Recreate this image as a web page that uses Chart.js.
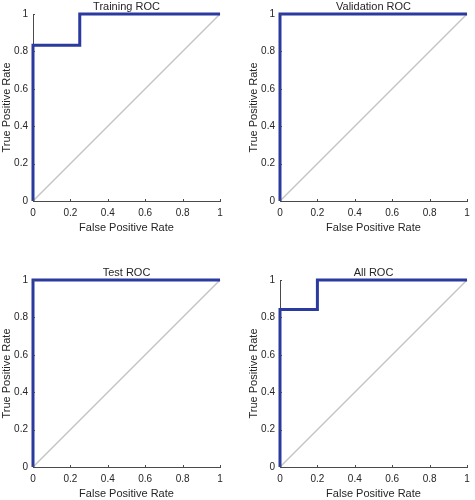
<!DOCTYPE html>
<html>
<head>
<meta charset="utf-8">
<script src="https://cdn.jsdelivr.net/npm/chart.js@4/dist/chart.umd.min.js"></script>
<style>
  html, body { margin: 0; padding: 0; background: #fff; }
  #wrap { position: relative; width: 475px; height: 500px; overflow: hidden; background: #fff; }
  canvas { position: absolute; }
</style>
</head>
<body>
<div id="wrap"></div>
<script>
// ---- data ----
const panelTitles = ['Training ROC', 'Validation ROC', 'Test ROC', 'All ROC'];
const trainFPR = [0, 0, 0.25, 0.25, 1];
const trainTPR = [0, 0.833, 0.833, 1, 1];
const valFPR   = [0, 0, 1];
const valTPR   = [0, 1, 1];
const testFPR  = [0, 0, 1];
const testTPR  = [0, 1, 1];
const allFPR   = [0, 0, 0.2, 0.2, 1];
const allTPR   = [0, 0.842, 0.842, 1, 1];
const diagFPR  = [0, 1];
const diagTPR  = [0, 1];
const tickValues = [0, 0.2, 0.4, 0.6, 0.8, 1];
const xAxisLabel = 'False Positive Rate';
const yAxisLabel = 'True Positive Rate';

// ---- styling / layout ----
const FONT = "'Liberation Sans', Arial, Helvetica, sans-serif";
const TXT = '#262626';
const AXIS = '#4a4a4a';
const BLUE = '#2b3a9f';
const GRAY = '#c4c4c4';
const M = 40; // canvas margin beyond its page cell

// page cells and desired plot areas in page coords
const cells = [
  { x: 0,   y: 0,   w: 237, h: 250, plot: { left: 33,  right: 220, top: 14,  bottom: 201 } },
  { x: 237, y: 0,   w: 238, h: 250, plot: { left: 280, right: 467, top: 14,  bottom: 201 } },
  { x: 0,   y: 250, w: 237, h: 250, plot: { left: 33,  right: 220, top: 280, bottom: 467 } },
  { x: 237, y: 250, w: 238, h: 250, plot: { left: 280, right: 467, top: 280, bottom: 467 } }
];

const series = [
  [trainFPR, trainTPR],
  [valFPR, valTPR],
  [testFPR, testTPR],
  [allFPR, allTPR]
];

function pts(xs, ys) { return xs.map((x, i) => ({ x: x, y: ys[i] })); }

const decor = {
  id: 'decor',
  afterDraw(chart) {
    const ctx = chart.ctx;
    const a = chart.chartArea;
    const xs = chart.scales.x, ys = chart.scales.y;
    ctx.save();
    ctx.strokeStyle = AXIS;
    ctx.lineWidth = 1;
    ctx.beginPath();
    tickValues.forEach(v => {
      const px = Math.round(xs.getPixelForValue(v)) + 0.5;
      ctx.moveTo(px, a.bottom); ctx.lineTo(px, a.bottom - 2);
      const py = Math.round(ys.getPixelForValue(v)) + 0.5;
      ctx.moveTo(a.left, py); ctx.lineTo(a.left + 2, py);
    });
    ctx.stroke();
    ctx.fillStyle = TXT;
    ctx.font = '11px ' + FONT;
    ctx.textAlign = 'center';
    ctx.textBaseline = 'middle';
    ctx.fillText(chart.options.plugins.panelTitle, (a.left + a.right) / 2, a.top - 7);
    ctx.restore();
  }
};

function makeChart(i) {
  const c = cells[i];
  const cv = document.createElement('canvas');
  cv.width = c.w + 2 * M; cv.height = c.h + 2 * M;
  cv.style.left = (c.x - M) + 'px'; cv.style.top = (c.y - M) + 'px';
  document.getElementById('wrap').appendChild(cv);
  const t = { left: c.plot.left - c.x + M, right: c.plot.right - c.x + M,
              top: c.plot.top - c.y + M, bottom: c.plot.bottom - c.y + M };
  const [fx, ty] = series[i];
  const chart = new Chart(cv, {
    type: 'scatter',
    data: {
      datasets: [
        { data: pts(fx, ty), showLine: true, borderColor: BLUE, borderWidth: 3,
          pointRadius: 0, pointHoverRadius: 0, tension: 0, clip: 6, borderJoinStyle: 'miter' },
        { data: pts(diagFPR, diagTPR), showLine: true, borderColor: GRAY, borderWidth: 1.5,
          pointRadius: 0, pointHoverRadius: 0, tension: 0, clip: 6 }
      ]
    },
    options: {
      responsive: false,
      animation: false,
      devicePixelRatio: 1,
      layout: { padding: { left: M, right: M, top: M, bottom: M } },
      plugins: { legend: { display: false }, tooltip: { enabled: false }, title: { display: false },
                 panelTitle: panelTitles[i] },
      events: [],
      scales: {
        x: {
          type: 'linear', min: 0, max: 1,
          afterBuildTicks: s => { s.ticks = tickValues.map(v => ({ value: v })); },
          ticks: { color: TXT, font: { family: FONT, size: 10 }, padding: 6, maxRotation: 0,
                   callback: v => String(v) },
          grid: { display: false, drawTicks: false },
          border: { display: true, color: AXIS, width: 1 },
          title: { display: true, text: xAxisLabel, color: TXT, font: { family: FONT, size: 11 },
                   padding: { top: -4, bottom: 0 } }
        },
        y: {
          type: 'linear', min: 0, max: 1,
          afterBuildTicks: s => { s.ticks = tickValues.map(v => ({ value: v })); },
          ticks: { color: TXT, font: { family: FONT, size: 10 }, padding: 5,
                   callback: v => String(v) },
          grid: { display: false, drawTicks: false },
          border: { display: true, color: AXIS, width: 1 },
          title: { display: true, text: yAxisLabel, color: TXT, font: { family: FONT, size: 11 },
                   padding: { top: 0, bottom: -4 } }
        }
      }
    },
    plugins: [decor]
  });
  for (let k = 0; k < 4; k++) {
    const a = chart.chartArea;
    const p = chart.options.layout.padding;
    p.left += t.left - a.left;
    p.right += a.right - t.right;
    p.top += t.top - a.top;
    p.bottom += a.bottom - t.bottom;
    chart.update('none');
  }
  return chart;
}

for (let i = 0; i < 4; i++) makeChart(i);
</script>
</body>
</html>
